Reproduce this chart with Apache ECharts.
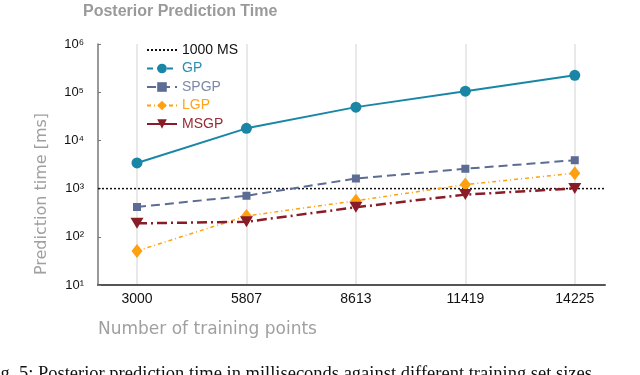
<!DOCTYPE html>
<html>
<head>
<meta charset="utf-8">
<script src="https://cdn.jsdelivr.net/npm/echarts@6/dist/echarts.min.js"></script>
<style>
  html, body { margin: 0; padding: 0; background: #fff; }
  #chart { width: 640px; height: 375px; }
</style>
</head>
<body>
<div id="chart"></div>
<script>
var trainPoints = [3000, 5807, 8613, 11419, 14225];
var gpTime = [3400, 17800, 49000, 105000, 224000];
var spgpTime = [415, 710, 1620, 2580, 3880];
var lgpTime = [51, 270, 560, 1210, 2090];
var msgpTime = [190, 205, 410, 750, 1010];
var thresholdMs = 1000;
var xMin = 2000, xMax = 15000;
var supDigits = { 1: '\u00b9', 2: '\u00b2', 3: '\u00b3', 4: '\u2074', 5: '\u2075', 6: '\u2076' };

function pairs(vals) {
    return trainPoints.map(function (x, i) { return [x, vals[i]]; });
}

var chart = echarts.init(document.getElementById('chart'));

var option = {
    animation: false,
    textStyle: { fontFamily: 'Liberation Sans, Arial, sans-serif' },
    title: {
        text: 'Posterior Prediction Time',
        left: 78,
        top: -1,
        textStyle: { color: '#9a9a9a', fontSize: 16, fontWeight: 'bold' }
    },
    legend: {
        orient: 'vertical',
        left: 141,
        top: 38,
        itemWidth: 30,
        itemHeight: 12,
        itemGap: 4.5,
        textStyle: { fontSize: 14 },
        data: [
            { name: '1000 MS', textStyle: { color: '#111' }, itemStyle: { opacity: 0 } },
            { name: 'GP', textStyle: { color: '#2a8fae' }, lineStyle: { type: [6, 4] } },
            { name: 'SPGP', textStyle: { color: '#7d89a8' } },
            { name: 'LGP', textStyle: { color: '#ffa31a' } },
            { name: 'MSGP', textStyle: { color: '#9a2a35' }, lineStyle: { type: 'solid' } }
        ]
    },
    grid: { left: 98, right: 35, top: 44, bottom: 90 },
    xAxis: {
        type: 'value',
        min: xMin,
        max: xMax,
        axisLine: { lineStyle: { color: '#555', width: 2 } },
        axisTick: { show: false, customValues: trainPoints },
        axisLabel: {
            customValues: trainPoints,
            color: '#111',
            fontSize: 14,
            margin: 7,
            formatter: function (v) { return String(v); }
        },
        splitLine: { show: true, lineStyle: { color: '#e2e2e2', width: 1.5 } }
    },
    yAxis: {
        type: 'log',
        logBase: 10,
        min: 10,
        max: 1000000,
        axisLine: { show: true, lineStyle: { color: '#777', width: 1.5 } },
        axisTick: { show: true, inside: true, length: 3, lineStyle: { color: '#777' } },
        axisLabel: {
            color: '#111',
            fontSize: 13,
            margin: 14,
            formatter: function (v) {
                var e = Math.round(Math.log10(v));
                return '10' + supDigits[e];
            }
        },
        splitLine: { show: false },
        minorTick: { show: false }
    },
    series: [
        {
            name: '1000 MS',
            type: 'line',
            data: [[xMin, thresholdMs], [xMax, thresholdMs]],
            symbol: 'none',
            z: 1,
            lineStyle: { color: '#111', width: 1.5, type: [2, 2] },
            itemStyle: { color: '#111' }
        },
        {
            name: 'GP',
            type: 'line',
            data: pairs(gpTime),
            symbol: 'circle',
            symbolSize: 11,
            lineStyle: { color: '#1a86a6', width: 2 },
            itemStyle: { color: '#1a86a6' }
        },
        {
            name: 'SPGP',
            type: 'line',
            data: pairs(spgpTime),
            symbol: 'rect',
            symbolSize: 8,
            lineStyle: { color: '#5c6c94', width: 2, type: [9, 5] },
            itemStyle: { color: '#5c6c94' }
        },
        {
            name: 'LGP',
            type: 'line',
            data: pairs(lgpTime),
            symbol: 'diamond',
            symbolSize: [11, 14],
            lineStyle: { color: '#ffa010', width: 1.5, type: [4, 3, 1, 3] },
            itemStyle: { color: '#ffa010' }
        },
        {
            name: 'MSGP',
            type: 'line',
            data: pairs(msgpTime),
            symbol: 'triangle',
            symbolRotate: 180,
            symbolSize: [13, 11],
            lineStyle: { color: '#8a1c28', width: 2.5, type: [10, 4, 2, 4] },
            itemStyle: { color: '#8a1c28' }
        }
    ],
    graphic: [
        {
            type: 'text',
            x: 42,
            y: 194,
            rotation: Math.PI / 2,
            style: {
                text: 'Prediction time [ms]',
                fill: '#a0a0a0',
                font: '16px DejaVu Sans',
                textAlign: 'center',
                textVerticalAlign: 'middle'
            }
        },
        {
            type: 'text',
            x: 98,
            y: 330,
            style: {
                text: 'Number of training points',
                fill: '#a0a0a0',
                font: '17px DejaVu Sans',
                textAlign: 'left',
                textVerticalAlign: 'middle'
            }
        },
        {
            type: 'text',
            x: -15,
            y: 365,
            style: {
                text: 'Fig. 5: Posterior prediction time in milliseconds against different training set sizes',
                fill: '#111',
                font: '18.5px Liberation Serif',
                textAlign: 'left',
                textVerticalAlign: 'top'
            }
        }
    ]
};

chart.setOption(option);
window.onresize = chart.resize;
</script>
</body>
</html>
